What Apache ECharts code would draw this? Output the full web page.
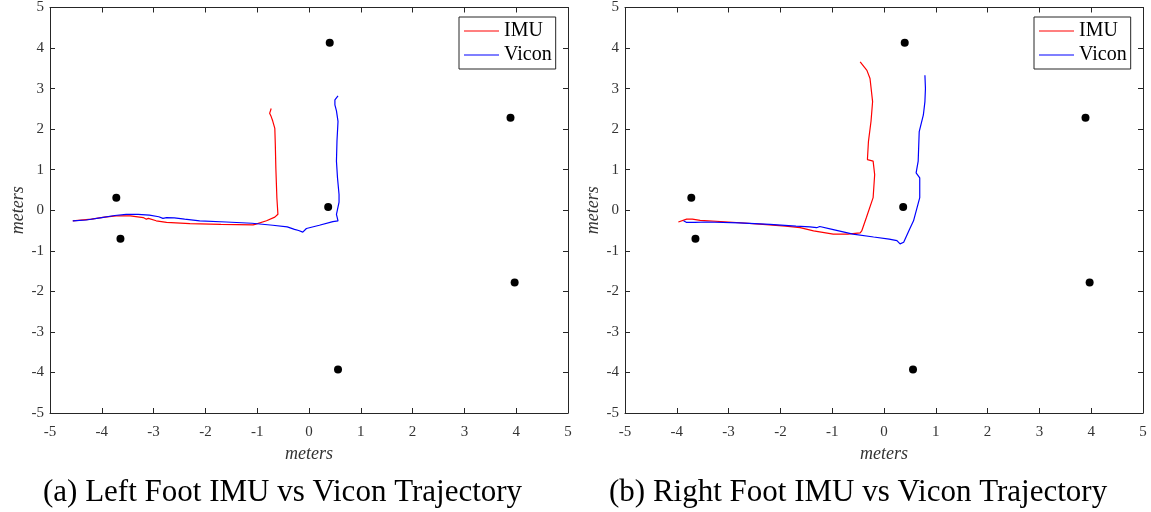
<!DOCTYPE html>
<html>
<head>
<meta charset="utf-8">
<script src="https://cdn.jsdelivr.net/npm/echarts@6/dist/echarts.min.js"></script>
<style>
html,body{margin:0;padding:0;background:#fff;}
#c{width:1151px;height:512px;}
</style>
</head>
<body>
<div id="c"></div>
<script>
// ---- data ----
const ticks = [-5,-4,-3,-2,-1,0,1,2,3,4,5];
const captions = ['(a) Left Foot IMU vs Vicon Trajectory', '(b) Right Foot IMU vs Vicon Trajectory'];
const seriesNames = ['IMU', 'Vicon'];
const axisName = 'meters';

const anchorsX = [-3.72, -3.64, 0.40, 0.37, 3.89, 3.97, 0.56];
const anchorsY = [0.31, -0.70, 4.13, 0.08, 2.28, -1.78, -3.93];

const leftIMU = [
  [-4.56,-0.26],[-4.2,-0.22],[-3.95,-0.17],[-3.72,-0.14],[-3.45,-0.14],[-3.2,-0.18],
  [-3.14,-0.22],[-3.1,-0.2],[-2.95,-0.26],[-2.75,-0.3],[-2.3,-0.33],[-1.7,-0.35],
  [-1.08,-0.36],[-1.06,-0.4],[-1.04,-0.35],[-0.82,-0.26],[-0.66,-0.17],[-0.6,-0.1],
  [-0.62,0.3],[-0.64,1.04],[-0.65,1.6],[-0.66,2.02],[-0.7,2.2],[-0.73,2.31],
  [-0.76,2.39],[-0.73,2.51]
];
const leftVicon = [
  [-4.56,-0.26],[-4.3,-0.24],[-4.0,-0.18],[-3.75,-0.13],[-3.53,-0.1],[-3.3,-0.1],
  [-3.08,-0.12],[-2.9,-0.16],[-2.82,-0.2],[-2.75,-0.18],[-2.6,-0.19],[-2.4,-0.22],
  [-2.11,-0.26],[-1.6,-0.29],[-1.1,-0.32],[-0.7,-0.37],[-0.42,-0.41],[-0.28,-0.47],
  [-0.2,-0.5],[-0.12,-0.54],[-0.05,-0.45],[0.2,-0.37],[0.46,-0.28],[0.56,-0.26],
  [0.53,-0.1],[0.58,0.2],[0.58,0.39],[0.55,0.8],[0.53,1.21],[0.54,1.7],[0.56,2.19],
  [0.53,2.45],[0.5,2.6],[0.5,2.72],[0.56,2.82]
];
const rightIMU = [
  [-3.97,-0.29],[-3.81,-0.22],[-3.7,-0.22],[-3.55,-0.25],[-3.0,-0.29],[-2.4,-0.34],
  [-1.9,-0.39],[-1.62,-0.43],[-1.6,-0.47],[-1.36,-0.51],[-0.98,-0.59],[-0.7,-0.59],
  [-0.46,-0.56],[-0.43,-0.51],[-0.34,-0.18],[-0.21,0.31],[-0.18,0.88],[-0.21,1.21],
  [-0.32,1.25],[-0.3,1.7],[-0.25,2.2],[-0.22,2.68],[-0.27,3.25],[-0.33,3.45],[-0.46,3.66]
];
const rightVicon = [
  [-3.87,-0.26],[-3.81,-0.3],[-3.65,-0.3],[-3.42,-0.29],[-2.8,-0.31],[-2.2,-0.35],
  [-1.7,-0.39],[-1.43,-0.41],[-1.3,-0.43],[-1.24,-0.4],[-1.0,-0.47],[-0.6,-0.59],
  [-0.2,-0.66],[0.1,-0.71],[0.25,-0.75],[0.31,-0.83],[0.38,-0.79],[0.5,-0.45],
  [0.57,-0.26],[0.69,0.31],[0.69,0.8],[0.62,0.92],[0.66,1.21],[0.68,1.94],
  [0.76,2.35],[0.79,2.68],[0.8,3.0],[0.79,3.33]
];

// ---- chart ----
const SERIF = '"Liberation Serif", "Times New Roman", serif';
const AX = '#262626';
const chart = echarts.init(document.getElementById('c'), null, {renderer: 'canvas'});

const grids = [
  {left: 50, top: 5, width: 518, height: 408},
  {left: 625, top: 5, width: 518, height: 408}
];

function axis(dim, gridIndex, pos, labelled) {
  const a = {
    type: 'value', gridIndex: gridIndex, position: pos,
    min: ticks[0], max: ticks[ticks.length - 1], interval: 1,
    splitLine: {show: false},
    axisLine: {show: true, onZero: false, lineStyle: {color: AX, width: 1}},
    axisTick: {show: true, inside: true, length: 5, lineStyle: {color: AX, width: 1}},
    axisLabel: {show: labelled, color: '#333', fontFamily: SERIF, fontSize: 15,
      margin: dim === 'x' ? 12 : 6}
  };
  if (labelled) {
    a.name = axisName;
    a.nameLocation = 'middle';
    a.nameTextStyle = {fontFamily: SERIF, fontStyle: 'italic', fontSize: 18, color: '#333'};
    a.nameGap = dim === 'x' ? 30 : 23;
  }
  return a;
}

const xAxes = [], yAxes = [];
[0, 1].forEach(g => {
  xAxes.push(axis('x', g, 'bottom', true));
  xAxes.push(axis('x', g, 'top', false));
  yAxes.push(axis('y', g, 'left', true));
  yAxes.push(axis('y', g, 'right', false));
});

const colors = {IMU: '#ff0000', Vicon: '#0000ff'};
const trajs = [[leftIMU, leftVicon], [rightIMU, rightVicon]];
const series = [];
const anchors = anchorsX.map((x, i) => [x, anchorsY[i]]);
[0, 1].forEach(g => {
  seriesNames.forEach((n, k) => {
    series.push({
      name: n, type: 'line', xAxisIndex: g * 2, yAxisIndex: g * 2,
      data: trajs[g][k], showSymbol: false, symbol: 'none', smooth: false,
      lineStyle: {color: colors[n], width: 1.2}, itemStyle: {color: colors[n]},
      animation: false, z: 3
    });
  });
  series.push({
    name: 'anchors' + g, type: 'scatter', xAxisIndex: g * 2, yAxisIndex: g * 2,
    data: anchors, symbol: 'circle', symbolSize: 8,
    itemStyle: {color: '#000', opacity: 1}, animation: false, z: 4
  });
});

function legend(left) {
  return {
    data: seriesNames, orient: 'vertical', left: left, top: 17,
    icon: 'rect', itemWidth: 35, itemHeight: 1.2, itemGap: 2,
    padding: [3, 4, 3, 5], borderColor: AX, borderWidth: 1, backgroundColor: '#fff',
    textStyle: {fontFamily: SERIF, fontSize: 20, color: '#000', lineHeight: 22},
    selectedMode: false
  };
}

chart.setOption({
  backgroundColor: '#fff',
  animation: false,
  title: captions.map((t, i) => ({
    text: t, left: i === 0 ? 43 : 609, top: 477, padding: 0,
    textStyle: {fontFamily: SERIF, fontSize: 31, fontWeight: 'normal', color: '#000'}
  })),
  grid: grids,
  xAxis: xAxes,
  yAxis: yAxes,
  legend: [legend(459), legend(1034)],
  series: series
});
</script>
</body>
</html>
